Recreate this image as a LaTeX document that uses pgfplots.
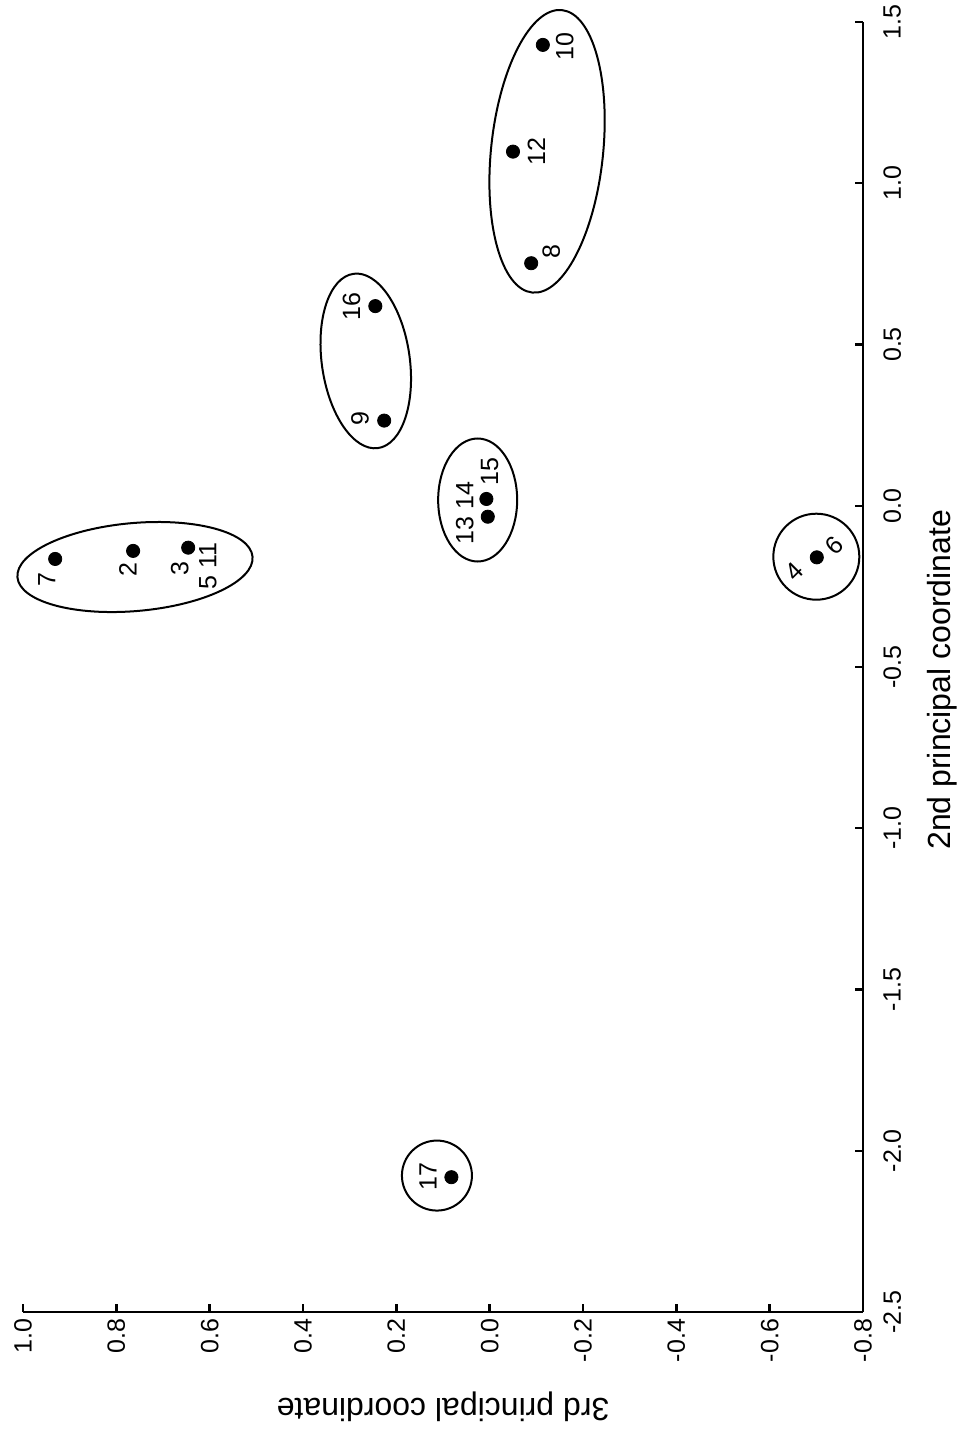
\documentclass[border=0pt]{standalone}
\usepackage{fontspec}
\setmainfont{Liberation Sans}
\usepackage{pgfplots}
\usepackage{pgfplotstable}
\pgfplotsset{compat=1.18}
\usetikzlibrary{shapes.geometric}

% x = 3rd principal coordinate, y = 2nd principal coordinate
\pgfplotstableread{
x y
0.931 -0.165
0.764 -0.140
0.646 -0.130
0.007 0.021
0.004 -0.034
0.226 0.264
0.245 0.619
-0.114 1.429
-0.050 1.098
-0.089 0.752
-0.701 -0.160
0.082 -2.082
}\pts

\newcommand{\lab}{\fontsize{12.5}{15}\selectfont}
\newcommand{\axl}{\fontsize{16}{19}\selectfont}

\begin{document}
\begin{tikzpicture}
\useasboundingbox (0,0) rectangle (483pt,717pt);
\begin{axis}[
  at={(11.5pt,61pt)}, anchor=south west,
  scale only axis, width=420pt, height=645pt,
  x dir=reverse,
  xmin=-0.8, xmax=1.0, ymin=-2.5, ymax=1.5,
  axis x line*=bottom, axis y line*=right,
  axis line style={line width=1.2pt},
  tick style={line width=1.2pt, black},
  major tick length=4pt, tick align=inside,
  xtick={-0.8,-0.6,-0.4,-0.2,0,0.2,0.4,0.6,0.8,1.0},
  xticklabels={-0.8,-0.6,-0.4,-0.2,0.0,0.2,0.4,0.6,0.8,1.0},
  ytick={-2.5,-2,-1.5,-1,-0.5,0,0.5,1,1.5},
  yticklabels={-2.5,-2.0,-1.5,-1.0,-0.5,0.0,0.5,1.0,1.5},
  ticklabel style={font=\lab},
  xticklabel style={rotate=90, anchor=east},
  yticklabel style={rotate=90, anchor=north, inner ysep=10pt},
  clip=false,
]
\addplot[only marks, mark=*, mark size=3.3pt, black] table {\pts};

% group outlines
\node[draw, ellipse, line width=1pt, inner sep=0pt, minimum width=118pt, minimum height=44pt, rotate=5] at (axis cs:0.760,-0.190) {};
\node[draw, ellipse, line width=1pt, inner sep=0pt, minimum width=39.5pt, minimum height=61.5pt] at (axis cs:0.0257,0.0178) {};
\node[draw, ellipse, line width=1pt, inner sep=0pt, minimum width=44pt, minimum height=88pt, rotate=8] at (axis cs:0.2655,0.449) {};
\node[draw, ellipse, line width=1pt, inner sep=0pt, minimum width=56pt, minimum height=142pt, rotate=-6] at (axis cs:-0.123,1.099) {};
\node[draw, circle, line width=1pt, inner sep=0pt, minimum size=43pt] at (axis cs:-0.700,-0.158) {};
\node[draw, circle, line width=1pt, inner sep=0pt, minimum size=35pt] at (axis cs:0.113,-2.077) {};

% point labels
\node[rotate=90, font=\lab] at (axis cs:0.949,-0.230) {7};
\node[rotate=90, font=\lab] at (axis cs:0.775,-0.199) {2};
\node[rotate=90, font=\lab] at (axis cs:0.664,-0.194) {3};
\node[rotate=90, font=\lab] at (axis cs:0.604,-0.187) {5 11};
\node[rotate=90, font=\lab] at (axis cs:0.0535,-0.0234) {13 14};
\node[rotate=90, font=\lab] at (axis cs:0.0,0.1056) {15};
\node[rotate=90, font=\lab] at (axis cs:0.278,0.271) {9};
\node[rotate=90, font=\lab] at (axis cs:0.296,0.617) {16};
\node[rotate=90, font=\lab] at (axis cs:-0.161,1.423) {10};
\node[rotate=90, font=\lab] at (axis cs:-0.100,1.098) {12};
\node[rotate=90, font=\lab] at (axis cs:-0.132,0.788) {8};
\node[rotate=45, font=\lab] at (axis cs:-0.653,-0.204) {4};
\node[rotate=45, font=\lab] at (axis cs:-0.739,-0.122) {6};
\node[rotate=90, font=\lab] at (axis cs:0.132,-2.080) {17};

% axis titles
\node[rotate=180, anchor=base, font=\axl] at ([yshift=-43pt]rel axis cs:0.5,0) {3rd principal coordinate};
\node[rotate=90, anchor=base, font=\axl] at ([xshift=43.5pt]axis cs:-0.8,-0.54) {2nd principal coordinate};
\end{axis}
\end{tikzpicture}
\end{document}
